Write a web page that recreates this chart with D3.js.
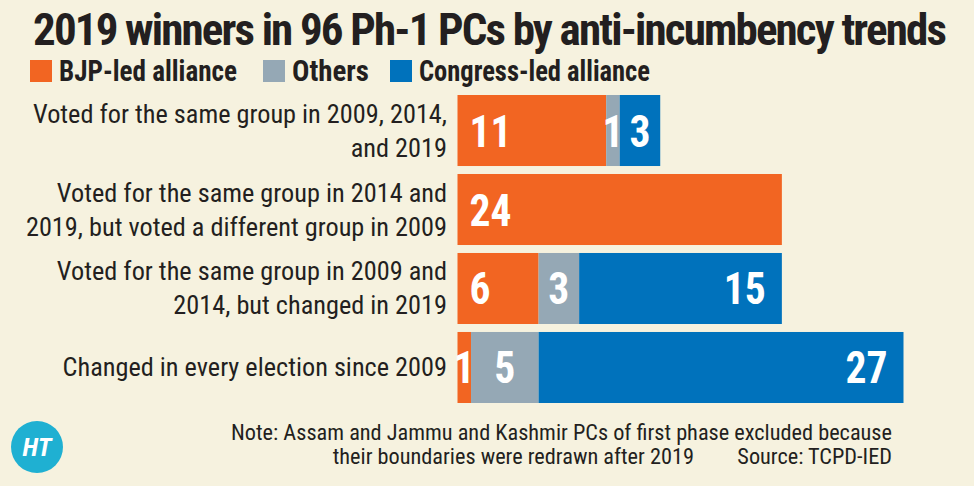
<!DOCTYPE html>
<html>
<head>
<meta charset="utf-8">
<script src="https://cdn.jsdelivr.net/npm/d3@7"></script>
<style>
  html, body { margin: 0; padding: 0; background: #f6f2df; }
  svg { display: block; }
  text { font-family: "Liberation Sans Narrow", "Roboto Condensed", "Arial Narrow", "DejaVu Sans Condensed", sans-serif; }
</style>
</head>
<body>
<svg id="chart" width="974" height="486"></svg>
<script>
// ---------- data ----------
const categories = [
  ["Voted for the same group in 2009, 2014,", "and 2019"],
  ["Voted for the same group in 2014 and", "2019, but voted a different group in 2009"],
  ["Voted for the same group in 2009 and", "2014, but changed in 2019"],
  ["Changed in every election since 2009"]
];
const seriesNames = ["BJP-led alliance", "Others", "Congress-led alliance"];
const bjpValues = [11, 24, 6, 1];
const othersValues = [1, 0, 3, 5];
const congressValues = [3, 0, 15, 27];
const titleText = "2019 winners in 96 Ph-1 PCs by anti-incumbency trends";
const noteLine1 = "Note: Assam and Jammu and Kashmir PCs of first phase excluded because";
const noteLine2 = "their boundaries were redrawn after 2019";
const sourceText = "Source: TCPD-IED";

// ---------- setup ----------
const colors = ["#f26522", "#95a8b5", "#0072bc"];
const textColor = "#231f20";
const svg = d3.select("#chart");
svg.append("rect").attr("width", 974).attr("height", 486).attr("fill", "#f6f2df");

const rows = categories.map((c, i) => ({
  key: i, label: c,
  "BJP-led alliance": bjpValues[i],
  "Others": othersValues[i],
  "Congress-led alliance": congressValues[i]
}));
const stacked = d3.stack().keys(seriesNames)(rows);

const x = d3.scaleLinear().domain([0, 33]).range([457.5, 903.5]);
const y = d3.scaleBand().domain(rows.map(r => r.key)).range([95, 403]).paddingInner(0.101).paddingOuter(0);
const color = d3.scaleOrdinal().domain(seriesNames).range(colors);

function fit(sel, target) {
  sel.each(function () {
    const w = this.getComputedTextLength();
    if (w > 0) d3.select(this).attr("textLength", target).attr("lengthAdjust", "spacingAndGlyphs");
  });
}
function scaleBy(sel, f) {
  sel.each(function () {
    const w = this.getComputedTextLength();
    if (w > 0) d3.select(this).attr("textLength", w * f).attr("lengthAdjust", "spacingAndGlyphs");
  });
}

// ---------- title (fit with letter-spacing so glyph extents stay inside) ----------
const title = svg.append("text").attr("x", 33).attr("y", 45)
  .attr("font-size", 45).attr("font-weight", "bold").attr("fill", textColor).text(titleText);
{
  const w = title.node().getComputedTextLength();
  const ls = (912 - w) / titleText.length;
  title.attr("letter-spacing", ls.toFixed(3));
}

// ---------- legend ----------
const legendX = [30, 263, 390];
const legendW = [178, 77, 231];
const lg = svg.append("g");
seriesNames.forEach((s, i) => {
  lg.append("rect").attr("x", legendX[i]).attr("y", 60).attr("width", 22).attr("height", 22).attr("fill", color(s));
  const t = lg.append("text").attr("x", legendX[i] + 29).attr("y", 81)
    .attr("font-size", 29).attr("font-weight", "bold").attr("fill", textColor).text(s);
  fit(t, legendW[i]);
});

// ---------- bars ----------
const g = svg.append("g");
g.selectAll("g.series").data(stacked).join("g").attr("class", "series")
  .attr("fill", d => color(d.key))
  .selectAll("rect").data(d => d.filter(p => p[1] - p[0] > 0)).join("rect")
  .attr("x", d => x(d[0]))
  .attr("width", d => x(d[1]) - x(d[0]))
  .attr("y", d => y(d.data.key))
  .attr("height", y.bandwidth());

// value labels
const labelData = [];
stacked.forEach(s => s.forEach(p => {
  const v = p[1] - p[0];
  if (v > 0) labelData.push({ series: s.key, v, x0: x(p[0]), x1: x(p[1]), row: p.data.key });
}));
const vl = g.selectAll("text.val").data(labelData).join("text").attr("class", "val")
  .attr("font-size", 44).attr("font-weight", "bold").attr("fill", "#fff")
  .attr("y", d => y(d.row) + y.bandwidth() / 2 + 16)
  .attr("x", d => {
    const w = d.x1 - d.x0;
    if (w > 70 && d.series === "BJP-led alliance") return d.x0 + 12;
    if (w > 70 && d.series === "Congress-led alliance") return d.x1 - 16;
    return (d.x0 + d.x1) / 2;
  })
  .attr("text-anchor", d => {
    const w = d.x1 - d.x0;
    if (w > 70 && d.series === "BJP-led alliance") return "start";
    if (w > 70 && d.series === "Congress-led alliance") return "end";
    return "middle";
  })
  .text(d => d.v);
{
  const ref = vl.filter(d => d.v === 24).node();
  const f = ref ? 42 / ref.getComputedTextLength() : 1;
  scaleBy(vl, f);
}

// ---------- category labels ----------
const lineH = 34;
const cl = svg.append("g");
rows.forEach(r => {
  const n = r.label.length;
  const cy = y(r.key) + y.bandwidth() / 2;
  r.label.forEach((line, j) => {
    cl.append("text").attr("x", 447)
      .attr("y", cy + 9 + (j - (n - 1) / 2) * lineH)
      .attr("text-anchor", "end").attr("font-size", 25).attr("fill", textColor).text(line);
  });
});
{
  const first = cl.select("text").node();
  const f = 414 / first.getComputedTextLength();
  scaleBy(cl.selectAll("text"), f);
}

// ---------- note ----------
const nt = svg.append("g").attr("font-size", 22).attr("fill", textColor);
const n1 = nt.append("text").attr("x", 892).attr("y", 440).attr("text-anchor", "end").text(noteLine1);
const n2 = nt.append("text").attr("x", 694).attr("y", 464).attr("text-anchor", "end").text(noteLine2);
const n3 = nt.append("text").attr("x", 892).attr("y", 464).attr("text-anchor", "end").text(sourceText);
{
  const f = 661 / n1.node().getComputedTextLength();
  scaleBy(nt.selectAll("text"), f);
}

// ---------- logo ----------
const logo = svg.append("g").attr("transform", "translate(37,447)");
logo.append("circle").attr("r", 26).attr("fill", "#1fb0d2");
logo.append("text").attr("text-anchor", "middle").attr("y", 9)
  .attr("font-family", "DejaVu Serif, serif").attr("font-weight", "bold").attr("font-style", "italic")
  .attr("font-size", 26).attr("fill", "#fff").text("HT");
</script>
</body>
</html>
